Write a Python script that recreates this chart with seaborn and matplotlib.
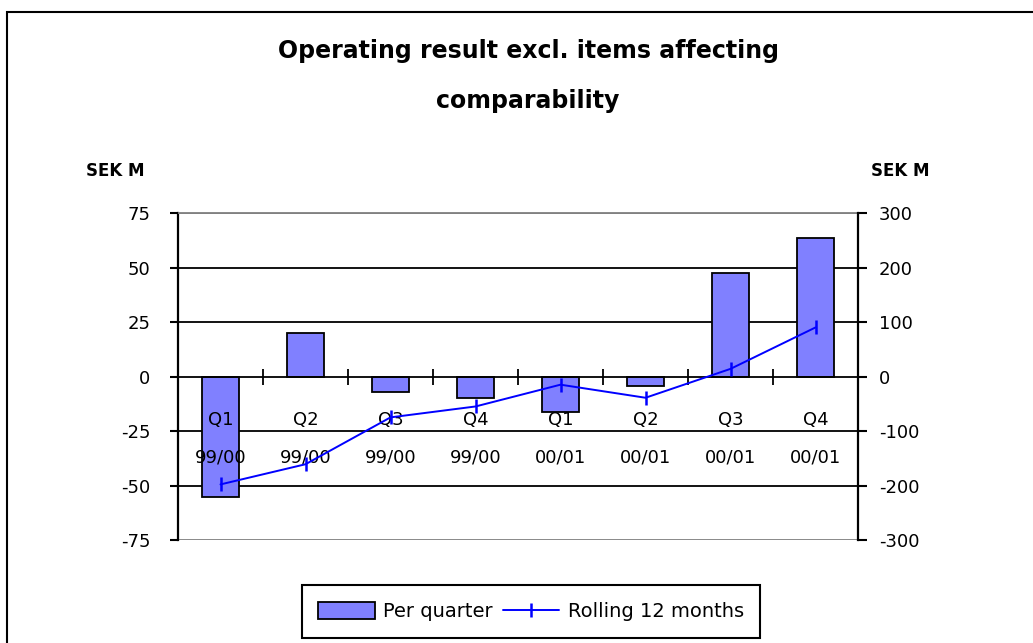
import numpy as np
import pandas as pd
import matplotlib
matplotlib.use('Agg')
import matplotlib.pyplot as plt
import seaborn as sns
from matplotlib.patches import Rectangle

# ---- data ----
quarters = ["Q1", "Q2", "Q3", "Q4", "Q1", "Q2", "Q3", "Q4"]
years = ["99/00", "99/00", "99/00", "99/00", "00/01", "00/01", "00/01", "00/01"]
per_quarter = [-55.5, 20, -7, -10, -16.5, -4.5, 47.5, 63.5]
rolling_12m = [-198, -161, -75, -55, -15, -39, 14, 90]
left_ticks = [-75, -50, -25, 0, 25, 50, 75]
right_ticks = [-300, -200, -100, 0, 100, 200, 300]
title = "Operating result excl. items affecting\ncomparability"
unit = "SEK M"
series_names = ["Per quarter", "Rolling 12 months"]

BAR_COLOR = '#8080FF'
LINE_COLOR = '#0000FF'
GRAY = '#808080'

sns.set_theme(style='white')
plt.rcParams['font.family'] = ['DejaVu Sans']
plt.rcParams['axes.unicode_minus'] = False

W, H = 1033, 643
fig = plt.figure(figsize=(W / 100, H / 100), dpi=100)
ax = fig.add_axes([178 / W, 1 - 540 / H, (858 - 178) / W, (540 - 213) / H])

labels = [f"{q}\n{y}" for q, y in zip(quarters, years)]
df = pd.DataFrame({'label': labels, 'value': per_quarter})
sns.barplot(data=df, x='label', y='value', order=labels, ax=ax, color=BAR_COLOR,
            saturation=1, width=0.43, edgecolor='black', linewidth=1.3, errorbar=None)

ax2 = ax.twinx()
sns.lineplot(x=np.arange(len(rolling_12m)), y=rolling_12m, ax=ax2, color=LINE_COLOR,
             linewidth=1.4, marker='|', markersize=10, markeredgewidth=1.8,
             markeredgecolor=LINE_COLOR)

# limits
ax.set_xlim(-0.5, len(labels) - 0.5)
ax.set_ylim(left_ticks[0], left_ticks[-1])
ax2.set_ylim(right_ticks[0], right_ticks[-1])

# gridlines (behind bars)
ax.grid(False)
ax2.grid(False)
for v in left_ticks:
    if v == 0:
        continue
    col = GRAY if abs(v) == max(left_ticks) else 'black'
    ax.axhline(v, color=col, lw=1.3, zorder=0.5)
ax.set_axisbelow(False)

# spines
ax.spines['bottom'].set_position(('data', 0))
ax.spines['bottom'].set_color('black')
ax.spines['bottom'].set_linewidth(1.3)
ax.spines['top'].set_color(GRAY)
ax.spines['top'].set_linewidth(1.3)
ax.spines['left'].set_color('black')
ax.spines['left'].set_linewidth(1.6)
ax.spines['right'].set_visible(False)
for s in ['left', 'top', 'bottom']:
    ax2.spines[s].set_visible(False)
ax2.spines['right'].set_color('black')
ax2.spines['right'].set_linewidth(1.6)

# y ticks
ax.set_yticks(left_ticks)
ax.set_yticklabels([str(v) for v in left_ticks])
ax.tick_params(axis='y', which='major', direction='out', left=True, length=6,
               width=1.5, color='black', pad=14, labelsize=13, labelcolor='black')
ax2.set_yticks(right_ticks)
ax2.set_yticklabels([str(v) for v in right_ticks])
ax2.tick_params(axis='y', which='major', direction='out', right=True, length=6.5,
                width=1.5, color='black', pad=8.5, labelsize=13, labelcolor='black')

# x ticks
ax.set_xticks(np.arange(len(labels)))
ax.set_xticklabels(labels)
ax.set_xticks(np.arange(len(labels)) + 0.5, minor=True)
ax.tick_params(axis='x', which='major', length=0, pad=24.5, labelsize=13,
               labelcolor='black', bottom=True)
ax.tick_params(axis='x', which='minor', direction='inout', length=11.5, width=1.3,
               color='black', bottom=True)
for t in ax.get_xticklabels():
    t.set_linespacing(2.45)
ax.set_xlabel('')
ax.set_ylabel('')
ax2.set_ylabel('')

# texts
fig.text(528 / W, 1 - 76 / H, title, ha='center', va='center', fontsize=17,
         fontweight='bold', linespacing=2.35, color='black')
fig.text(115 / W, 1 - 171 / H, unit, ha='center', va='center', fontsize=12,
         fontweight='bold', color='black')
fig.text(900 / W, 1 - 171 / H, unit, ha='center', va='center', fontsize=12,
         fontweight='bold', color='black')

# legend
leg = fig.legend([ax.patches[0], ax2.lines[0]], series_names, loc='center',
                 bbox_to_anchor=(531 / W, 1 - 611.5 / H), ncol=2, frameon=True,
                 fancybox=False, edgecolor='black', fontsize=14, handlelength=2.9,
                 handleheight=0.95, handletextpad=0.45, columnspacing=0.5,
                 borderpad=0.85, framealpha=1, labelcolor='black')
leg.get_frame().set_linewidth(1.5)

# outer chart border
fig.add_artist(Rectangle((7 / W, -0.2), 1.3, (1 - 12 / H) + 0.2, transform=fig.transFigure,
                         fill=False, edgecolor='black', lw=1.5))

fig.savefig('out.png', dpi=100)
